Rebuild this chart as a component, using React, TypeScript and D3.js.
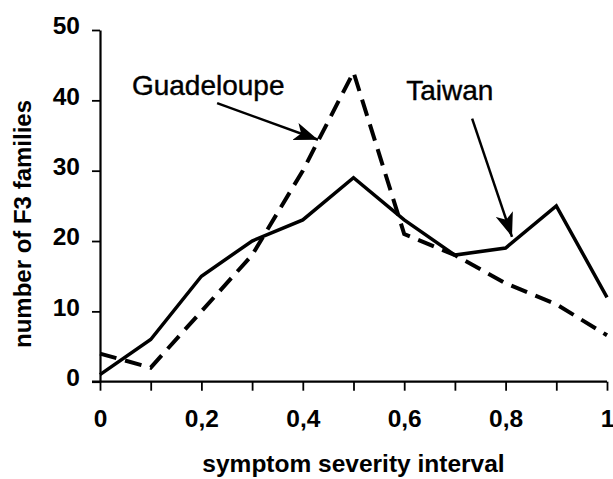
import React, { useEffect, useRef } from 'react'
import * as d3 from 'd3'

// symptom severity interval (x) and number of F3 families per series
const intervals = [0, 0.1, 0.2, 0.3, 0.4, 0.5, 0.6, 0.7, 0.8, 0.9, 1]
const taiwan = [1, 6, 15, 20, 23, 29, 23, 18, 19, 25, 12]
const guadeloupe = [4, 2, 10, 18, 30, 44, 21, 18, 14, 11, 6.6]
const yTicks = [0, 10, 20, 30, 40, 50]
const xTicks = [0, 0.1, 0.2, 0.3, 0.4, 0.5, 0.6, 0.7, 0.8, 0.9, 1]

// annotations in data units: label position, arrow start, arrow tip
const notes = [
  { text: 'Guadeloupe', lx: 0.063, ly: 40.8, x1: 0.231, y1: 39.6, x2: 0.43, y2: 34.4 },
  { text: 'Taiwan', lx: 0.604, ly: 40.1, x1: 0.734, y1: 37.4, x2: 0.8126, y2: 20.6 },
]

const font = '"Liberation Sans", Arial, sans-serif'

const App = () => {
  const xAxisRef = useRef(null)
  const yAxisRef = useRef(null)

  const width = 613
  const height = 479
  const margin = { top: 30, right: 6, bottom: 97.3, left: 100 }
  const innerWidth = width - margin.left - margin.right
  const innerHeight = height - margin.top - margin.bottom

  const xScale = d3.scaleLinear().domain([0, 1]).range([0, innerWidth])
  const yScale = d3.scaleLinear().domain([0, 50]).range([innerHeight, 0])

  const fmt = (v) => {
    const r = Math.round(v * 10)
    if (r % 2 !== 0) return ''
    return d3.format('~g')(r / 10).replace('.', ',')
  }

  useEffect(() => {
    const xg = d3.select(xAxisRef.current)
    xg.attr('transform', `translate(0, ${innerHeight})`)
      .call(d3.axisBottom(xScale).tickValues(xTicks).tickSize(9).tickSizeOuter(0).tickPadding(19).tickFormat(fmt))
    xg.select('.domain').attr('stroke', '#000').attr('stroke-width', 2.2).attr('d', `M-8,0H${innerWidth}`)
    xg.selectAll('line').attr('stroke', '#000').attr('stroke-width', 1.8)
    xg.selectAll('text')
      .attr('fill', '#000')
      .attr('font-family', font)
      .attr('font-weight', 'bold')
      .attr('font-size', 24.5)

    const yg = d3.select(yAxisRef.current)
    yg.call(d3.axisLeft(yScale).tickValues(yTicks).tickSize(8).tickSizeOuter(0).tickPadding(12))
    yg.select('.domain').attr('stroke', '#000').attr('stroke-width', 2.2)
    yg.selectAll('line').attr('stroke', '#000').attr('stroke-width', 1.8)
    yg.selectAll('text')
      .attr('fill', '#000')
      .attr('font-family', font)
      .attr('font-weight', 'bold')
      .attr('font-size', 24.5)
      .attr('dy', '0.16em')
  }, [innerHeight, innerWidth, xScale, yScale])

  const line = d3
    .line()
    .x((d) => xScale(d[0]))
    .y((d) => yScale(d[1]))

  const taiwanPath = line(intervals.map((x, i) => [x, taiwan[i]]))
  const guadPath = line(intervals.map((x, i) => [x, guadeloupe[i]]))

  return (
    <svg width={width} height={height} style={{ position: 'absolute', left: 0, top: 0, background: '#fff' }}>
      <defs>
        <marker id='head' viewBox='0 0 24 18' refX='24' refY='9' markerWidth='24' markerHeight='18' markerUnits='userSpaceOnUse' orient='auto'>
          <path d='M0,0 L24,9 L0,18 L6,9 Z' fill='#000' />
        </marker>
      </defs>
      <g transform={`translate(${margin.left}, ${margin.top})`}>
        <g ref={xAxisRef} />
        <g ref={yAxisRef} />
        <path d={guadPath} fill='none' stroke='#000' strokeWidth={4} strokeDasharray='17,9' strokeLinejoin='miter' />
        <path d={taiwanPath} fill='none' stroke='#000' strokeWidth={3.5} strokeLinejoin='miter' />
        {notes.map((n) => (
          <g key={n.text}>
            <text x={xScale(n.lx)} y={yScale(n.ly)} fontFamily={font} fontSize={28} fill='#000' stroke='#000' strokeWidth={0.4}>
              {n.text}
            </text>
            <line
              x1={xScale(n.x1)}
              y1={yScale(n.y1)}
              x2={xScale(n.x2)}
              y2={yScale(n.y2)}
              stroke='#000'
              strokeWidth={2.5}
              markerEnd='url(#head)'
            />
          </g>
        ))}
      </g>
      <text
        x={margin.left + innerWidth / 2}
        y={472}
        textAnchor='middle'
        fontFamily={font}
        fontWeight='bold'
        fontSize={24.5}
        fill='#000'
      >
        symptom severity interval
      </text>
      <text
        transform={`translate(31, 224) rotate(-90)`}
        textAnchor='middle'
        fontFamily={font}
        fontWeight='bold'
        fontSize={24}
        fill='#000'
      >
        number of F3 families
      </text>
    </svg>
  )
}

export default App
